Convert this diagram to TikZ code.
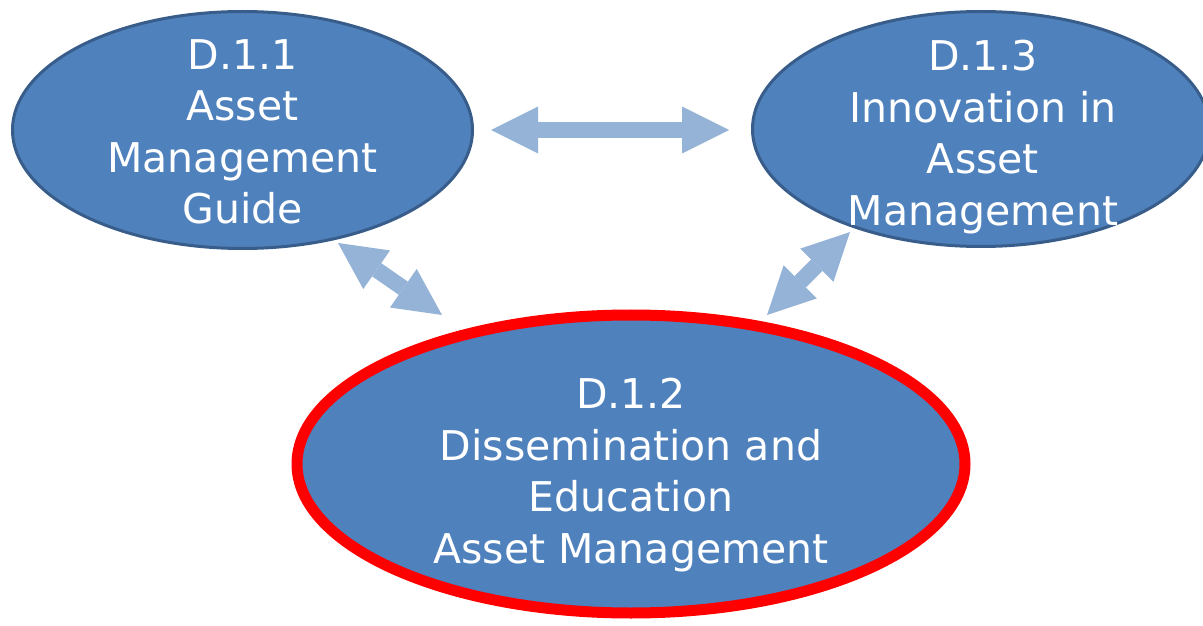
\documentclass[tikz,border=0pt]{standalone}
\usepackage{fontspec}
\setmainfont{DejaVu Sans}
\usetikzlibrary{shapes.geometric,arrows.meta,calc}
\definecolor{fillblue}{HTML}{4F81BD}
\definecolor{edgeblue}{HTML}{385D8A}
\definecolor{arrowblue}{HTML}{95B3D7}
\begin{document}
\begin{tikzpicture}[x=1pt,y=1pt,
  oval/.style={ellipse, fill=fillblue, inner sep=0pt, outer sep=0pt},
  lbl/.style={text=white, align=center, font=\fontsize{41}{51.5}\selectfont},
  biarrow/.style={draw=arrowblue, line width=16pt,
    {Triangle[length=47pt,width=47pt,line width=0pt]}-{Triangle[length=47pt,width=47pt,line width=0pt]}}]
\useasboundingbox (0,0) rectangle (1203,625);
\node[oval, draw=edgeblue, line width=3pt, minimum width=460pt, minimum height=237pt,
  label={[lbl,yshift=-2pt]center:{D.1.1\\Asset\\Management\\Guide}}] (l) at (242.5,495) {};
\node[oval, draw=edgeblue, line width=3pt, minimum width=457pt, minimum height=235pt,
  label={[lbl,xshift=2pt,yshift=-8pt]center:{D.1.3\\Innovation in\\Asset\\Management}}] (r) at (981,496) {};
\node[oval, draw=red, line width=11pt, minimum width=668pt, minimum height=298pt,
  label={[lbl,yshift=-11pt]center:{D.1.2\\Dissemination and\\Education\\Asset Management}}] (b) at (631,161) {};
\draw[biarrow] ($(l.center)+(248.5,0)$) -- ($(r.center)+(-252,-1)$);
\draw[biarrow] ($(l.center)+(95.5,-113)$) -- ($(b.center)+(-189,149)$);
\draw[biarrow] ($(r.center)+(-131,-103)$) -- ($(b.center)+(136,149)$);
\end{tikzpicture}
\end{document}
